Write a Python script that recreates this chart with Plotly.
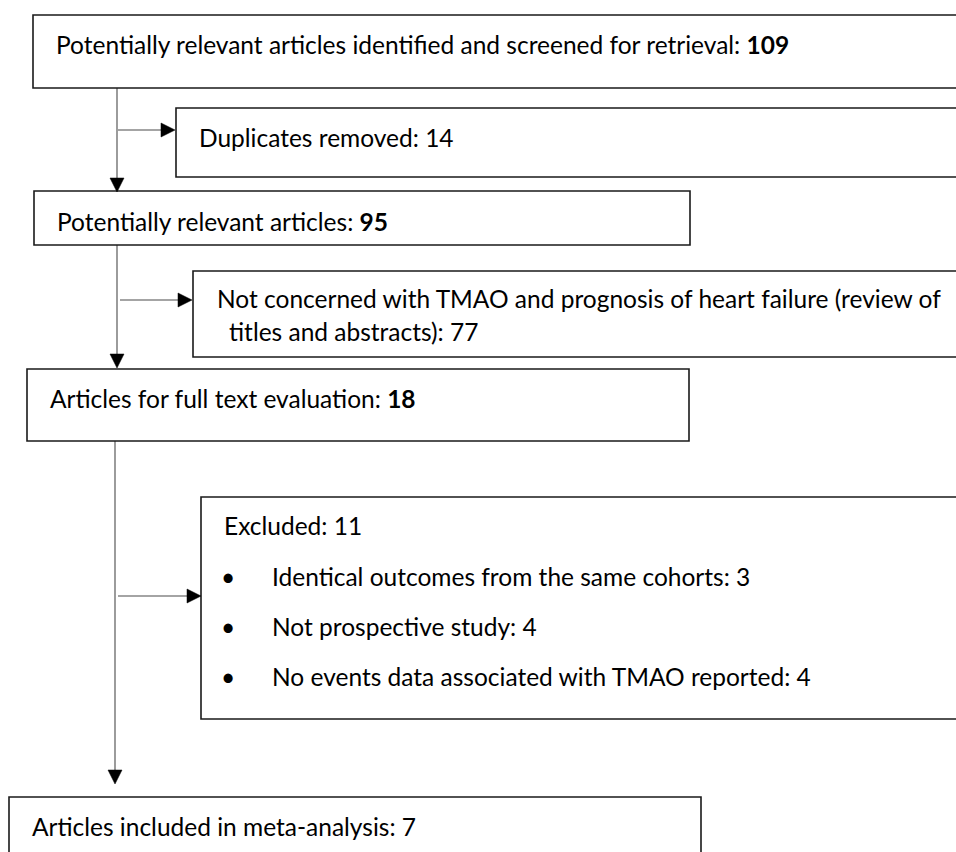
import plotly.graph_objects as go

# ---- data ----
stage_labels = [
    "Potentially relevant articles identified and screened for retrieval",
    "Potentially relevant articles",
    "Articles for full text evaluation",
    "Articles included in meta-analysis",
]
stage_counts = [109, 95, 18, 7]
stage_bold = [True, True, True, False]

excl_labels = [
    ["Duplicates removed"],
    ["Not concerned with TMAO and prognosis of heart failure (review of", "titles and abstracts)"],
    ["Excluded"],
]
excl_counts = [14, 77, 11]

reason_labels = [
    "Identical outcomes from the same cohorts",
    "Not prospective study",
    "No events data associated with TMAO reported",
]
reason_counts = [3, 4, 4]

# ---- layout geometry (pixels) ----
W, H = 956, 852
FONT = "Lato"
FS = 24.5
BOX_COL = "#1a1a1a"
LINE_COL = "#4a4a4a"

stage_boxes = [(33, 15, 1000, 88), (34, 191, 690, 245), (27, 369, 689, 441), (9, 797, 701, 900)]
stage_text = [(54, 44), (55, 221), (48, 398), (30, 826)]
excl_boxes = [(176, 108, 1000, 177), (193, 271, 1000, 357), (201, 497, 1000, 719)]
excl_text = [[(197, 137)], [(215, 298), (227, 331)], [(222, 525)]]
reason_y = [576, 626, 676]
bullet_x, reason_x = 228, 270

trunk = [(117, 88, 192), (117, 245, 368), (115, 441, 784)]
branches = [(130, 118, 175), (300, 120, 192), (596, 118, 201)]

fig = go.Figure()
fig.add_trace(go.Scatter(x=[0, W], y=[0, H], mode="markers", marker=dict(opacity=0), hoverinfo="skip", showlegend=False))

shapes = []
for (x0, y0, x1, y1) in stage_boxes + excl_boxes:
    shapes.append(dict(type="rect", x0=x0, y0=y0, x1=x1, y1=y1, xref="x", yref="y",
                       line=dict(color=BOX_COL, width=1.6), fillcolor="white", layer="above"))

AH = 14  # arrowhead length
AW = 7   # half width
for (x, y0, y1) in trunk:
    shapes.append(dict(type="line", x0=x, y0=y0, x1=x, y1=y1 - AH, xref="x", yref="y",
                       line=dict(color=LINE_COL, width=1.1), layer="below"))
    shapes.append(dict(type="path", xref="x", yref="y",
                       path=f"M{x-AW},{y1-AH} L{x+AW},{y1-AH} L{x},{y1} Z",
                       fillcolor="black", line=dict(color="black", width=0.5)))
for (y, x0, x1) in branches:
    shapes.append(dict(type="line", x0=x0, y0=y, x1=x1 - AH, y1=y, xref="x", yref="y",
                       line=dict(color=LINE_COL, width=1.1), layer="below"))
    shapes.append(dict(type="path", xref="x", yref="y",
                       path=f"M{x1-AH},{y-AW} L{x1-AH},{y+AW} L{x1},{y} Z",
                       fillcolor="black", line=dict(color="black", width=0.5)))

ann = []
def add_text(x, y, t, anchor="left"):
    ann.append(dict(x=x, y=y, xref="x", yref="y", text=t, showarrow=False,
                    xanchor=anchor, yanchor="middle", align="left",
                    font=dict(family=FONT, size=FS, color="black")))

for lab, cnt, b, (x, y) in zip(stage_labels, stage_counts, stage_bold, stage_text):
    num = f"<b>{cnt}</b>" if b else f"{cnt}"
    add_text(x, y, f"{lab}: {num}")

for lines, cnt, pos in zip(excl_labels, excl_counts, excl_text):
    for i, (line, (x, y)) in enumerate(zip(lines, pos)):
        t = line + (f": {cnt}" if i == len(lines) - 1 else "")
        add_text(x, y, t)

for lab, cnt, y in zip(reason_labels, reason_counts, reason_y):
    add_text(bullet_x, y, "•", anchor="center")
    add_text(reason_x, y, f"{lab}: {cnt}")

fig.update_layout(
    width=W, height=H, margin=dict(l=0, r=0, t=0, b=0),
    paper_bgcolor="white", plot_bgcolor="white",
    xaxis=dict(range=[0, W], visible=False, fixedrange=True),
    yaxis=dict(range=[H, 0], visible=False, fixedrange=True),
    shapes=shapes, annotations=ann, showlegend=False,
)
fig.write_html("out.html", config={"displayModeBar": False},
               post_script="document.body.style.margin='0';document.body.style.overflow='hidden';")
